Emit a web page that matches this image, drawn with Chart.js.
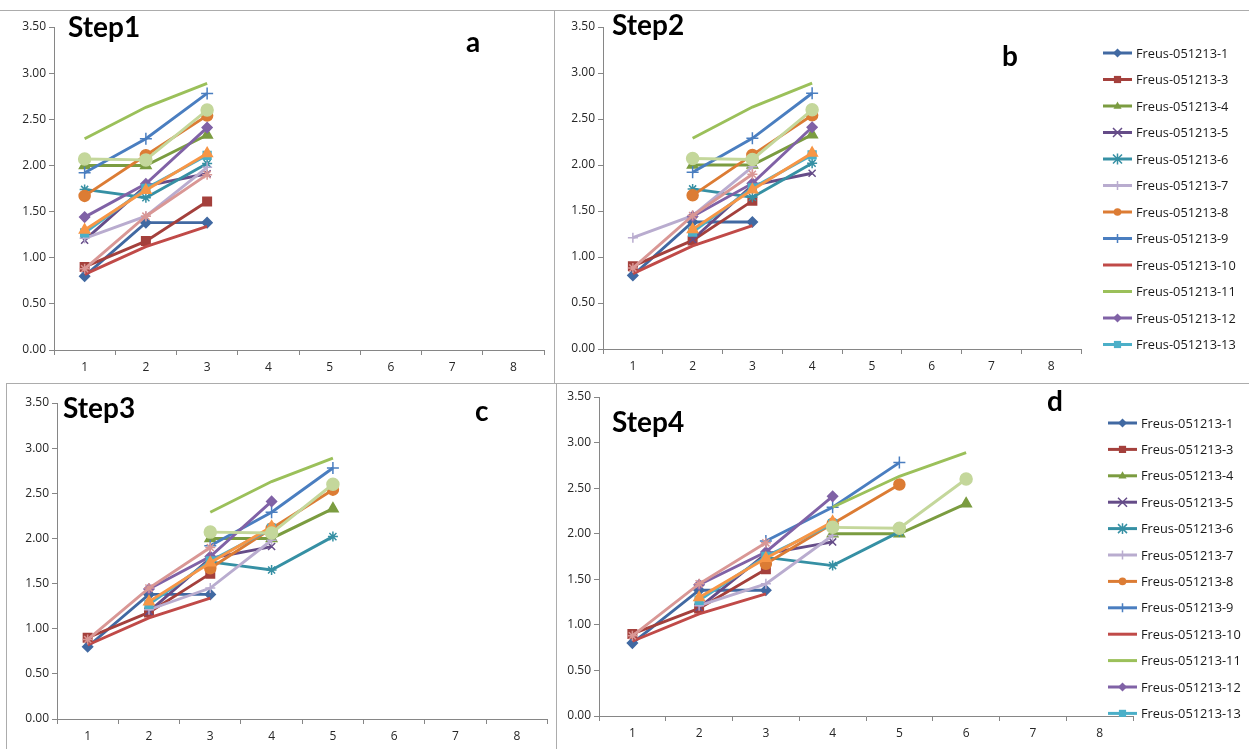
<!DOCTYPE html>
<html>
<head>
    <meta charset="utf-8">
    <title>Freus-051213 - Step 1 to 4</title>
    <script src="https://cdn.jsdelivr.net/npm/chart.js"></script>
    <style>
        body { margin: 0; background: #fff; }
        #page { position: relative; width: 1249px; height: 749px; overflow: hidden; }
        canvas { position: absolute; }
        .hl, .vl { position: absolute; background: #acacac; }
        .hl { height: 1px; }
        .vl { width: 1px; }
    </style>
</head>
<body>
    <div id="page">
        <canvas id="chartA" width="555" height="373" style="left:0;top:10px"></canvas>
        <canvas id="chartB" width="694" height="373" style="left:555px;top:10px"></canvas>
        <canvas id="chartC" width="555" height="366" style="left:0;top:383px"></canvas>
        <canvas id="chartD" width="694" height="366" style="left:555px;top:383px"></canvas>

        <div class="hl" style="left:0;top:10px;width:1249px"></div>
        <div class="vl" style="left:554px;top:10px;height:373px"></div>
        <div class="hl" style="left:6px;top:383px;width:1243px"></div>
        <div class="vl" style="left:6px;top:383px;height:366px"></div>
        <div class="vl" style="left:556px;top:383px;height:366px"></div>
    </div>

    <script>
        // categories on the x axis
        const categories = ['1', '2', '3', '4', '5', '6', '7', '8'];

        const seriesNames = [
            'Freus-051213-1', 'Freus-051213-3', 'Freus-051213-4', 'Freus-051213-5',
            'Freus-051213-6', 'Freus-051213-7', 'Freus-051213-8', 'Freus-051213-9',
            'Freus-051213-10', 'Freus-051213-11', 'Freus-051213-12', 'Freus-051213-13',
            'Freus-051213-14', 'Freus-051213-15', 'Freus-051213-16'
        ];

        // three measured values per sample
        const f1  = [0.80, 1.38, 1.38];
        const f3  = [0.90, 1.18, 1.61];
        const f4  = [2.00, 2.00, 2.33];
        const f5  = [1.19, 1.78, 1.91];
        const f6  = [1.74, 1.65, 2.02];
        const f7  = [1.21, 1.45, 1.98];
        const f8  = [1.67, 2.11, 2.54];
        const f9  = [1.92, 2.29, 2.78];
        const f10 = [0.82, 1.12, 1.34];
        const f11 = [2.29, 2.63, 2.89];
        const f12 = [1.44, 1.80, 2.41];
        const f13 = [1.27, 1.75, 2.11];
        const f14 = [0.88, 1.45, 1.90];
        const f15 = [1.30, 1.73, 2.13];
        const f16 = [2.07, 2.06, 2.60];
        const seriesValues = [f1, f3, f4, f5, f6, f7, f8, f9, f10, f11, f12, f13, f14, f15, f16];

        // category where each sample starts, per alignment step
        const startStep1 = [1, 1, 1, 1, 1, 1, 1, 1, 1, 1, 1, 1, 1, 1, 1];
        const startStep2 = [1, 1, 2, 2, 2, 1, 2, 2, 1, 2, 2, 2, 1, 2, 2];
        const startStep3 = [1, 1, 3, 2, 3, 2, 3, 3, 1, 3, 2, 2, 1, 2, 3];
        const startStep4 = [1, 1, 4, 2, 3, 2, 3, 3, 1, 4, 2, 2, 1, 2, 4];

        const yTicks = [0, 0.5, 1, 1.5, 2, 2.5, 3, 3.5];

        const colors = ['#4169A2', '#A4403C', '#7B9C40', '#654C88', '#3690A4', '#B9ACCF', '#DC7C34',
                        '#4A7EC0', '#C04A48', '#9BC05A', '#8062A6', '#4BAFC8', '#D99795', '#F79646', '#C4D79B'];
        const markers = ['rectRot', 'rect', 'triangle', 'crossRot', 'star', 'cross', 'circle',
                         'cross', null, null, 'rectRot', 'rect', 'star', 'triangle', 'circle'];
        const markerSize = [5, 6, 6, 5, 5, 5, 5.5, 6, 0, 0, 5, 5.5, 5, 6, 6];

        const tickFont = { family: "'Open Sans', sans-serif", size: 12 };

        function place(values, start) {
            const row = categories.map(() => null);
            values.forEach((v, k) => { row[start - 1 + k] = v; });
            return row;
        }

        function drawMarker(ctx, style, x, y, r, color) {
            ctx.save();
            ctx.fillStyle = color;
            ctx.strokeStyle = color;
            ctx.lineWidth = 1.5;
            ctx.beginPath();
            if (style === 'rectRot') {
                ctx.moveTo(x, y - r); ctx.lineTo(x + r, y); ctx.lineTo(x, y + r); ctx.lineTo(x - r, y);
                ctx.closePath(); ctx.fill();
            } else if (style === 'rect') {
                ctx.rect(x - r * 0.8, y - r * 0.8, r * 1.6, r * 1.6); ctx.fill();
            } else if (style === 'triangle') {
                ctx.moveTo(x, y - r); ctx.lineTo(x + r * 0.9, y + r * 0.6); ctx.lineTo(x - r * 0.9, y + r * 0.6);
                ctx.closePath(); ctx.fill();
            } else if (style === 'circle') {
                ctx.arc(x, y, r * 0.85, 0, Math.PI * 2); ctx.fill();
            } else if (style === 'crossRot' || style === 'star') {
                ctx.moveTo(x - r, y - r); ctx.lineTo(x + r, y + r);
                ctx.moveTo(x + r, y - r); ctx.lineTo(x - r, y + r);
                if (style === 'star') { ctx.moveTo(x, y - r * 1.2); ctx.lineTo(x, y + r * 1.2); }
                ctx.stroke();
            } else if (style === 'cross') {
                ctx.moveTo(x, y - r); ctx.lineTo(x, y + r); ctx.moveTo(x - r, y); ctx.lineTo(x + r, y);
                ctx.stroke();
            }
            ctx.restore();
        }

        // big panel labels ("Step1", "a" ...)
        const panelText = {
            id: 'panelText',
            afterDraw(chart, args, opts) {
                const ctx = chart.ctx;
                ctx.save();
                ctx.fillStyle = '#000';
                ctx.font = "bold 28px Lato, 'Open Sans', sans-serif";
                ctx.textBaseline = 'alphabetic';
                (opts.items || []).forEach(t => ctx.fillText(t.text, t.x, t.y));
                ctx.restore();
            }
        };

        // Excel style legend: line with marker in the middle, first 12 series only
        const sideLegend = {
            id: 'sideLegend',
            afterDraw(chart, args, opts) {
                if (!opts.show) return;
                const ctx = chart.ctx;
                ctx.save();
                ctx.font = "12.8px 'Open Sans', sans-serif";
                ctx.textBaseline = 'middle';
                for (let i = 0; i < 12; i++) {
                    const y = opts.y + i * opts.step;
                    ctx.strokeStyle = colors[i];
                    ctx.lineWidth = 3;
                    ctx.beginPath();
                    ctx.moveTo(opts.x, y);
                    ctx.lineTo(opts.x + 29, y);
                    ctx.stroke();
                    if (markers[i]) drawMarker(ctx, markers[i], opts.x + 14.5, y, 4.5, colors[i]);
                    ctx.fillStyle = '#1a1a1a';
                    ctx.fillText(seriesNames[i], opts.x + 33, y + 1);
                }
                ctx.restore();
            }
        };

        function makeChart(id, starts, pad, yWidth, texts, legend) {
            const datasets = seriesValues.map((vals, i) => ({
                label: seriesNames[i],
                data: place(vals, starts[i]),
                borderColor: colors[i],
                backgroundColor: colors[i],
                pointStyle: markers[i] || 'circle',
                pointRadius: markers[i] ? markerSize[i] : 0,
                pointBorderWidth: 1.5,
                borderWidth: 2.9,
                tension: 0,
                order: 20 - i
            }));

            new Chart(document.getElementById(id), {
                type: 'line',
                data: { labels: categories, datasets: datasets },
                plugins: [panelText, sideLegend],
                options: {
                    responsive: false,
                    animation: false,
                    layout: { padding: pad },
                    plugins: {
                        legend: { display: false },
                        tooltip: { enabled: false },
                        panelText: { items: texts },
                        sideLegend: legend
                    },
                    scales: {
                        x: {
                            offset: true,
                            grid: { drawOnChartArea: false, offset: true, tickLength: 5, color: '#868686' },
                            border: { color: '#868686' },
                            ticks: { font: tickFont, color: '#262626', padding: 5, maxRotation: 0 },
                            afterFit(scale) { scale.height = 30; }
                        },
                        y: {
                            min: 0,
                            max: 3.5,
                            afterBuildTicks(scale) { scale.ticks = yTicks.map(v => ({ value: v })); },
                            grid: { drawOnChartArea: false, tickLength: 5, color: '#868686' },
                            border: { color: '#868686' },
                            ticks: { font: tickFont, color: '#262626', padding: 3, callback: v => v.toFixed(2) },
                            afterFit(scale) { scale.width = yWidth; }
                        }
                    }
                }
            });
        }

        makeChart('chartA', startStep1, { left: 4, right: 11, top: 17, bottom: 3 }, 50,
            [{ text: 'Step1', x: 68, y: 27 }, { text: 'a', x: 466, y: 42 }], { show: false });
        makeChart('chartB', startStep2, { left: 0, right: 168, top: 17, bottom: 4 }, 48,
            [{ text: 'Step2', x: 57, y: 25 }, { text: 'b', x: 447, y: 56 }],
            { show: true, x: 548, y: 43, step: 26.5 });
        makeChart('chartC', startStep3, { left: 4, right: 2, top: 20, bottom: 0 }, 53,
            [{ text: 'Step3', x: 63, y: 35 }, { text: 'c', x: 475, y: 38 }], { show: false });
        makeChart('chartD', startStep4, { left: 0, right: 116, top: 14, bottom: 3 }, 44,
            [{ text: 'Step4', x: 57, y: 49 }, { text: 'd', x: 492, y: 28 }],
            { show: true, x: 553, y: 40, step: 26.4 });
    </script>
</body>
</html>
